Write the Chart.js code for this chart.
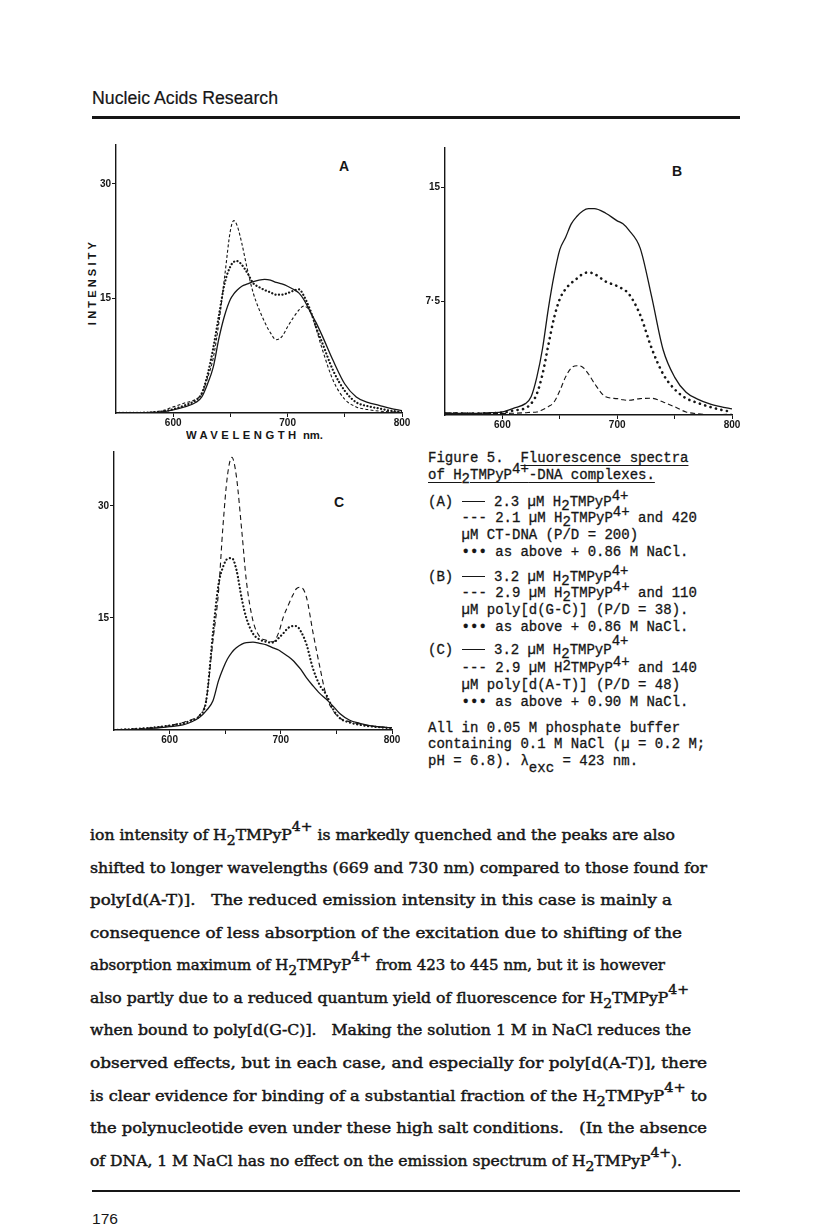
<!DOCTYPE html>
<html>
<head>
<meta charset="utf-8">
<script src="https://cdn.jsdelivr.net/npm/chart.js@4.4.1/dist/chart.umd.min.js"></script>
<style>
  body { margin: 0; background: #fff; }
  #page { position: relative; width: 816px; height: 1224px; overflow: hidden; background: #fff; color: #161616; }
  .t { position: absolute; white-space: pre; transform-origin: 0 50%; }
  .sans { font-family: "Liberation Sans", Arial, sans-serif; }
  .mono { font-family: "Liberation Mono", "DejaVu Sans Mono", monospace; font-size: 14px; line-height: 16px; -webkit-text-stroke: 0.3px #161616; }
  .body { font-family: "DejaVu Serif", "Liberation Serif", serif; font-size: 14.5px; line-height: 18px; -webkit-text-stroke: 0.45px #161616; }
  .lo { position: relative; top: 4px; }
  .hi { position: relative; top: -6px; }
  .bhi { position: relative; top: -9px; font-size: 13px; }
  .blo { position: relative; top: 5px; font-size: 13px; }
  .ul { text-decoration: underline; text-underline-offset: 3px; text-decoration-thickness: 1px; }
  .rule { display: inline-block; width: 23px; border-top: 1.4px solid #161616; vertical-align: 4px; margin: 0 1px 0 0; }
  .plabel { position: absolute; font: bold 14px "Liberation Sans", Arial, sans-serif; transform: translate(-50%, -50%); }
  canvas { position: absolute; }
</style>
</head>
<body>
<div id="page">
  <div class="t sans fit" data-r="278" style="left:92px; top:88px; font-size:17.5px; line-height:20px; -webkit-text-stroke:0.2px #161616;">Nucleic Acids Research</div>
  <div style="position:absolute; left:92px; top:116px; width:648px; height:2.5px; background:#161616;"></div>

  <div class="plabel" style="left:344px; top:166px;">A</div>
  <div class="plabel" style="left:677px; top:171px;">B</div>
  <div class="plabel" style="left:339px; top:502px;">C</div>

  <div class="sans" style="position:absolute; left:92px; top:282px; transform:translate(-50%,-50%) rotate(-90deg); font-weight:bold; font-size:11px; letter-spacing:3.2px; white-space:pre;">INTENSITY</div>
  <div class="t sans fit" data-r="323" style="left:186px; top:429px; font-weight:bold; font-size:11px; line-height:13px;"><span style="letter-spacing:3.4px;">WAVELENGTH</span> nm.</div>

  <!-- caption -->
  <div class="t mono" style="left:428px; top:450px;">Figure 5.  <span class="ul">Fluorescence spectra</span></div>
  <div class="t mono" style="left:428px; top:467px;"><span class="ul">of H<span class="lo">2</span>TMPyP<span class="hi">4+</span>-DNA complexes.</span></div>
  <div class="t mono" style="left:428px; top:494px;">(A) <span class="rule"></span> 2.3 µM H<span class="lo">2</span>TMPyP<span class="hi">4+</span></div>
  <div class="t mono" style="left:428px; top:510px;">    --- 2.1 µM H<span class="lo">2</span>TMPyP<span class="hi">4+</span> and 420</div>
  <div class="t mono" style="left:428px; top:527px;">    µM CT-DNA (P/D = 200)</div>
  <div class="t mono" style="left:428px; top:544px;">    <b>•••</b> as above + 0.86 M NaCl.</div>
  <div class="t mono" style="left:428px; top:569px;">(B) <span class="rule"></span> 3.2 µM H<span class="lo">2</span>TMPyP<span class="hi">4+</span></div>
  <div class="t mono" style="left:428px; top:585px;">    --- 2.9 µM H<span class="lo">2</span>TMPyP<span class="hi">4+</span> and 110</div>
  <div class="t mono" style="left:428px; top:602px;">    µM poly[d(G-C)] (P/D = 38).</div>
  <div class="t mono" style="left:428px; top:619px;">    <b>•••</b> as above + 0.86 M NaCl.</div>
  <div class="t mono" style="left:428px; top:642px;">(C) <span class="rule"></span> 3.2 µM H<span class="lo">2</span>TMPyP<span class="hi" style="top:-9px">4+</span></div>
  <div class="t mono" style="left:428px; top:660px;">    --- 2.9 µM H<span class="lo" style="top:-2px">2</span>TMPyP<span class="hi">4+</span> and 140</div>
  <div class="t mono" style="left:428px; top:677px;">    µM poly[d(A-T)] (P/D = 48)</div>
  <div class="t mono" style="left:428px; top:694px;">    <b>•••</b> as above + 0.90 M NaCl.</div>
  <div class="t mono" style="left:428px; top:720px;">All in 0.05 M phosphate buffer</div>
  <div class="t mono" style="left:428px; top:736px;">containing 0.1 M NaCl (µ = 0.2 M;</div>
  <div class="t mono" style="left:428px; top:753px;">pH = 6.8). λ<span class="lo" style="top:7px">exc</span> = 423 nm.</div>

  <!-- body text -->
  <div class="t body fit" data-r="675" style="left:90px; top:826px;">ion intensity of H<span class="blo">2</span>TMPyP<span class="bhi">4+</span> is markedly quenched and the peaks are also</div>
  <div class="t body fit" data-r="707" style="left:90px; top:859px;">shifted to longer wavelengths (669 and 730 nm) compared to those found for</div>
  <div class="t body fit" data-r="672" style="left:90px; top:891px;">poly[d(A-T)].   The reduced emission intensity in this case is mainly a</div>
  <div class="t body fit" data-r="682" style="left:90px; top:924px;">consequence of less absorption of the excitation due to shifting of the</div>
  <div class="t body fit" data-r="665" style="left:90px; top:956px;">absorption maximum of H<span class="blo">2</span>TMPyP<span class="bhi">4+</span> from 423 to 445 nm, but it is however</div>
  <div class="t body fit" data-r="689" style="left:90px; top:989px;">also partly due to a reduced quantum yield of fluorescence for H<span class="blo">2</span>TMPyP<span class="bhi">4+</span></div>
  <div class="t body fit" data-r="691" style="left:90px; top:1021px;">when bound to poly[d(G-C)].   Making the solution 1 M in NaCl reduces the</div>
  <div class="t body fit" data-r="707" style="left:90px; top:1054px;">observed effects, but in each case, and especially for poly[d(A-T)], there</div>
  <div class="t body fit" data-r="707" style="left:90px; top:1087px;">is clear evidence for binding of a substantial fraction of the H<span class="blo">2</span>TMPyP<span class="bhi">4+</span> to</div>
  <div class="t body fit" data-r="707" style="left:90px; top:1119px;">the polynucleotide even under these high salt conditions.   (In the absence</div>
  <div class="t body fit" data-r="682" style="left:90px; top:1152px;">of DNA, 1 M NaCl has no effect on the emission spectrum of H<span class="blo">2</span>TMPyP<span class="bhi">4+</span>).</div>

  <div style="position:absolute; left:92px; top:1190px; width:648px; height:1.5px; background:#161616;"></div>
  <div class="t sans fit" data-r="118" style="left:92px; top:1211px; font-size:14px; line-height:16px;">176</div>
</div>

<script>
// wavelength grids (nm)
const wlA = [550, 575, 590, 600, 610, 620, 625, 630, 635, 640, 645, 650, 653, 656, 660, 665, 670, 675, 680, 685, 690, 695, 700, 705, 710, 714, 720, 725, 730, 740, 750, 760, 770, 780, 790, 800];
const wlB = [550, 575, 590, 600, 610, 620, 625, 630, 635, 640, 645, 650, 655, 660, 665, 670, 675, 680, 690, 700, 705, 710, 720, 730, 740, 750, 760, 770, 780, 790, 800];
const wlC = [550, 575, 590, 600, 612, 620, 627, 633, 639, 644, 648, 652, 656, 660, 665, 669, 675, 681, 687, 693, 698, 702, 707, 711, 714, 718, 723, 729, 735, 741, 747, 753, 762, 771, 780, 790, 800];

// (A) CT-DNA
const solidA = [0, 0.05, 0.15, 0.4, 0.8, 1.4, 2.1, 3.8, 6.0, 9.8, 12.8, 14.9, 15.6, 16.1, 16.6, 16.9, 17.2, 17.4, 17.5, 17.4, 17.1, 16.9, 16.6, 16.2, 15.7, 14.9, 13.2, 11.8, 10.2, 6.8, 3.8, 2.1, 1.4, 1.0, 0.6, 0.3];
const dashA = [0, 0.05, 0.3, 0.8, 1.3, 1.8, 2.5, 4.6, 7.2, 11.9, 17.9, 23.9, 25.2, 24.5, 22.2, 18.7, 15.7, 13.6, 11.9, 10.5, 9.6, 10.0, 11.3, 12.5, 13.5, 14.0, 13.2, 11.0, 8.5, 4.2, 1.8, 0.8, 0.45, 0.25, 0.15, 0.1];
const dotA = [0, 0.05, 0.2, 0.5, 1.0, 1.7, 2.6, 5.0, 8.5, 12.8, 17.0, 19.2, 19.8, 19.9, 19.4, 18.3, 17.0, 16.5, 16.1, 15.8, 15.5, 15.5, 15.7, 16.0, 16.2, 15.4, 13.4, 11.2, 9.3, 5.5, 2.9, 1.4, 0.9, 0.6, 0.3, 0.15];

// (B) poly[d(G-C)]
const solidB = [0.1, 0.1, 0.15, 0.2, 0.45, 0.75, 1.2, 2.5, 4.4, 7.0, 9.2, 10.9, 11.7, 12.6, 13.1, 13.45, 13.6, 13.6, 13.3, 12.8, 12.6, 12.2, 11.0, 7.8, 4.3, 2.5, 1.5, 1.05, 0.75, 0.55, 0.4];
const dashB = [0.15, 0.12, 0.1, 0.1, 0.12, 0.15, 0.18, 0.2, 0.35, 0.55, 0.85, 1.6, 2.5, 3.1, 3.25, 3.15, 2.7, 2.1, 1.2, 1.08, 1.0, 0.97, 1.08, 1.1, 0.86, 0.54, 0.2, 0.08, 0.03, 0.03, 0.05];
const dotB = [0.1, 0.1, 0.12, 0.15, 0.3, 0.45, 0.75, 1.4, 2.7, 4.6, 6.4, 7.65, 8.3, 8.7, 9.0, 9.3, 9.4, 9.3, 8.8, 8.5, 8.3, 8.0, 6.6, 4.4, 2.7, 1.7, 1.1, 0.8, 0.55, 0.35, 0.2];

// (C) poly[d(A-T)]
const solidC = [0, 0.1, 0.3, 0.45, 0.7, 1.1, 1.7, 2.6, 3.9, 6.6, 8.2, 9.5, 10.4, 11.0, 11.5, 11.7, 11.75, 11.6, 11.4, 11.0, 10.7, 10.3, 9.8, 9.3, 8.8, 8.1, 7.0, 5.9, 4.9, 4.1, 3.2, 2.2, 1.3, 0.9, 0.6, 0.4, 0.3];
const dashC = [0, 0.2, 0.4, 0.6, 1.0, 1.4, 2.0, 4.1, 12.0, 18.5, 27.3, 34.0, 36.5, 34.0, 26.5, 20.0, 14.6, 12.5, 12.0, 11.8, 13.0, 15.0, 16.8, 18.1, 18.9, 19.1, 17.8, 13.0, 8.5, 4.5, 2.6, 1.6, 1.1, 0.8, 0.55, 0.4, 0.3];
const dotC = [0, 0.2, 0.4, 0.6, 0.9, 1.3, 1.9, 4.0, 13.0, 19.5, 21.8, 22.9, 23.0, 21.5, 17.5, 15.0, 12.9, 12.1, 11.8, 11.7, 12.3, 12.9, 13.7, 13.9, 13.9, 13.2, 11.5, 8.2, 6.0, 4.7, 2.8, 1.6, 1.0, 0.7, 0.5, 0.35, 0.25];

const xTicks = [600, 650, 700, 750, 800];
const yTicksA = [15, 30];
const yTicksB = [7.5, 15];
const yTicksC = [15, 30];

const INK = "#161616";
const Y_W = 30;
const X_H = 22;
const PAD_T = 2;
const PAD_R = 12;

const tickFont = { family: "Liberation Sans", size: 10, weight: "bold" };

const series = (wl, vals, style) => ({
	data: wl.map((x, i) => ({ x, y: vals[i] })),
	borderColor: INK,
	pointRadius: 0,
	fill: false,
	cubicInterpolationMode: "monotone",
	...style,
});

const solidStyle = { borderWidth: 1.3 };
const dashStyle = (dash) => ({ borderWidth: 1.1, borderDash: dash });
const dotStyle = (gap, w) => ({ borderWidth: w, borderDash: [0.1, gap], borderCapStyle: "round" });

function makePanel(box, yMax, yTicks, datasets) {
	const canvas = document.createElement("canvas");
	const w = box.right - box.left + Y_W + PAD_R;
	const h = box.bottom - box.top + PAD_T + X_H;
	canvas.width = w;
	canvas.height = h;
	canvas.style.left = box.left - Y_W + "px";
	canvas.style.top = box.top - PAD_T + "px";
	document.getElementById("page").appendChild(canvas);

	new Chart(canvas, {
		type: "line",
		data: { datasets },
		options: {
			responsive: false,
			animation: false,
			devicePixelRatio: 1,
			layout: { autoPadding: false, padding: { top: PAD_T, right: PAD_R, left: 0, bottom: 0 } },
			plugins: { legend: { display: false }, tooltip: { enabled: false } },
			scales: {
				x: {
					type: "linear",
					min: 550,
					max: 800,
					afterBuildTicks: (s) => { s.ticks = xTicks.map((v) => ({ value: v })); },
					afterFit: (s) => { s.height = X_H; },
					ticks: {
						autoSkip: false,
						maxRotation: 0,
						padding: 0,
						color: INK,
						font: tickFont,
						callback: (v) => (v % 100 === 0 ? String(v) : ""),
					},
					grid: { drawOnChartArea: false, drawTicks: true, tickLength: 4, color: INK, lineWidth: 1 },
					border: { display: true, color: INK, width: 1.4 },
				},
				y: {
					type: "linear",
					min: 0,
					max: yMax,
					afterBuildTicks: (s) => { s.ticks = yTicks.map((v) => ({ value: v })); },
					afterFit: (s) => { s.width = Y_W; },
					ticks: {
						padding: 1,
						color: INK,
						font: tickFont,
						callback: (v) => (v === 7.5 ? "7·5" : String(v)),
					},
					grid: { drawOnChartArea: false, drawTicks: true, tickLength: 4, color: INK, lineWidth: 1 },
					border: { display: true, color: INK, width: 1.4 },
				},
			},
		},
	});
}

makePanel({ left: 116, right: 402, top: 140, bottom: 413 }, 35.1, yTicksA, [
	series(wlA, solidA, solidStyle),
	series(wlA, dashA, dashStyle([3, 2.2])),
	series(wlA, dotA, dotStyle(3.4, 2.2)),
]);

makePanel({ left: 445, right: 732, top: 143, bottom: 415 }, 17.6, yTicksB, [
	series(wlB, solidB, solidStyle),
	series(wlB, dashB, dashStyle([5, 3])),
	series(wlB, dotB, dotStyle(5.5, 2.6)),
]);

makePanel({ left: 114, right: 392, top: 447, bottom: 730 }, 37.2, yTicksC, [
	series(wlC, solidC, solidStyle),
	series(wlC, dashC, dashStyle([5, 3.5])),
	series(wlC, dotC, dotStyle(3.6, 2.2)),
]);

// squeeze text lines to the widths seen on the page
function fitLines() {
	document.querySelectorAll(".fit").forEach((el) => {
		el.style.transform = "none";
		const left = parseFloat(el.style.left);
		const target = parseFloat(el.dataset.r) - left;
		const natural = el.getBoundingClientRect().width;
		if (natural > 0) el.style.transform = `scaleX(${target / natural})`;
	});
}
fitLines();
if (document.fonts && document.fonts.ready) document.fonts.ready.then(fitLines);
</script>
</body>
</html>
